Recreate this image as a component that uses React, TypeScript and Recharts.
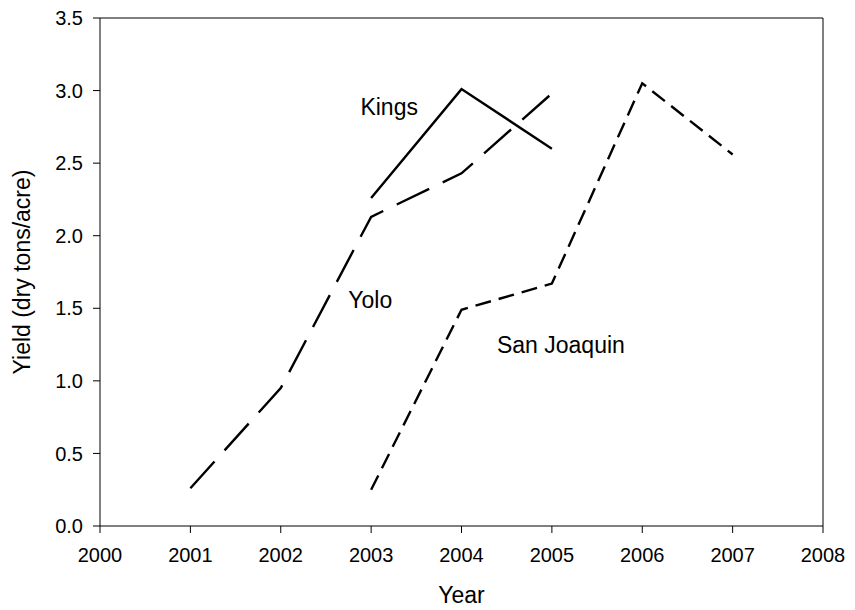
import { LineChart, Line, XAxis, YAxis, ReferenceLine, ReferenceDot } from "recharts";

const X_TICKS = [2000, 2001, 2002, 2003, 2004, 2005, 2006, 2007, 2008];
const Y_TICKS = [0, 0.5, 1, 1.5, 2, 2.5, 3, 3.5];

const KINGS_YEARS = [2003, 2004, 2005];
const KINGS_YIELD = [2.26, 3.01, 2.6];

const YOLO_YEARS = [2001, 2002, 2003, 2004, 2005];
const YOLO_YIELD = [0.26, 0.95, 2.13, 2.43, 2.98];

const SJ_YEARS = [2003, 2004, 2005, 2006, 2007];
const SJ_YIELD = [0.25, 1.49, 1.67, 3.05, 2.56];

// where the series names sit, in data units
const NAME_LABELS = [
  { name: "Kings", x: 2003.2, y: 2.89 },
  { name: "Yolo", x: 2002.99, y: 1.56 },
  { name: "San Joaquin", x: 2005.1, y: 1.25 },
];

const FONT = "'Liberation Sans', Arial, sans-serif";

const toPoints = (xs: number[], ys: number[]) => xs.map((x, i) => ({ x, y: ys[i] }));

const kings = toPoints(KINGS_YEARS, KINGS_YIELD);
const yolo = toPoints(YOLO_YEARS, YOLO_YIELD);
const sanJoaquin = toPoints(SJ_YEARS, SJ_YIELD);

const tickStyle = { fontSize: 20, fill: "#000", fontFamily: FONT };

export default function App() {
  return (
    <div style={{ position: "absolute", left: 0, top: 0, background: "#fff" }}>
      <LineChart
        width={855}
        height={610}
        margin={{ top: 18, right: 32, bottom: 24, left: 30 }}
      >
        <XAxis
          dataKey="x"
          type="number"
          domain={[2000, 2008]}
          ticks={X_TICKS}
          allowDuplicatedCategory={false}
          height={60}
          tick={tickStyle}
          tickSize={7}
          tickMargin={15}
          stroke="#000"
          tickLine={{ stroke: "#000" }}
          label={{
            content: ({ viewBox }) => (
              <text
                x={viewBox.x + viewBox.width / 2}
                y={viewBox.y + 77}
                textAnchor="middle"
                fontSize={23}
                fontFamily={FONT}
                fill="#000"
              >
                Year
              </text>
            ),
          }}
        />
        <YAxis
          dataKey="y"
          type="number"
          domain={[0, 3.5]}
          ticks={Y_TICKS}
          width={70}
          tick={tickStyle}
          tickSize={7}
          tickMargin={10}
          tickFormatter={(v) => v.toFixed(1)}
          stroke="#000"
          tickLine={{ stroke: "#000" }}
          label={{
            content: ({ viewBox }) => {
              const cy = viewBox.y + viewBox.height / 2;
              return (
                <text
                  x={30}
                  y={cy}
                  transform={`rotate(-90, 30, ${cy})`}
                  textAnchor="middle"
                  fontSize={23}
                  fontFamily={FONT}
                  fill="#000"
                >
                  Yield (dry tons/acre)
                </text>
              );
            },
          }}
        />
        <ReferenceLine y={3.5} stroke="#000" strokeWidth={1} />
        <ReferenceLine x={2008} stroke="#000" strokeWidth={1} />

        <Line
          data={kings}
          dataKey="y"
          stroke="#000"
          strokeWidth={2.4}
          dot={false}
          isAnimationActive={false}
        />
        <Line
          data={yolo}
          dataKey="y"
          stroke="#000"
          strokeWidth={2.4}
          strokeDasharray="36 15"
          dot={false}
          isAnimationActive={false}
        />
        <Line
          data={sanJoaquin}
          dataKey="y"
          stroke="#000"
          strokeWidth={2.4}
          strokeDasharray="16 8"
          dot={false}
          isAnimationActive={false}
        />

        {NAME_LABELS.map((l) => (
          <ReferenceDot
            key={l.name}
            x={l.x}
            y={l.y}
            r={0}
            fill="none"
            stroke="none"
            label={{
              value: l.name,
              position: "center",
              fontSize: 23,
              fontFamily: FONT,
              fill: "#000",
            }}
          />
        ))}
      </LineChart>
    </div>
  );
}
